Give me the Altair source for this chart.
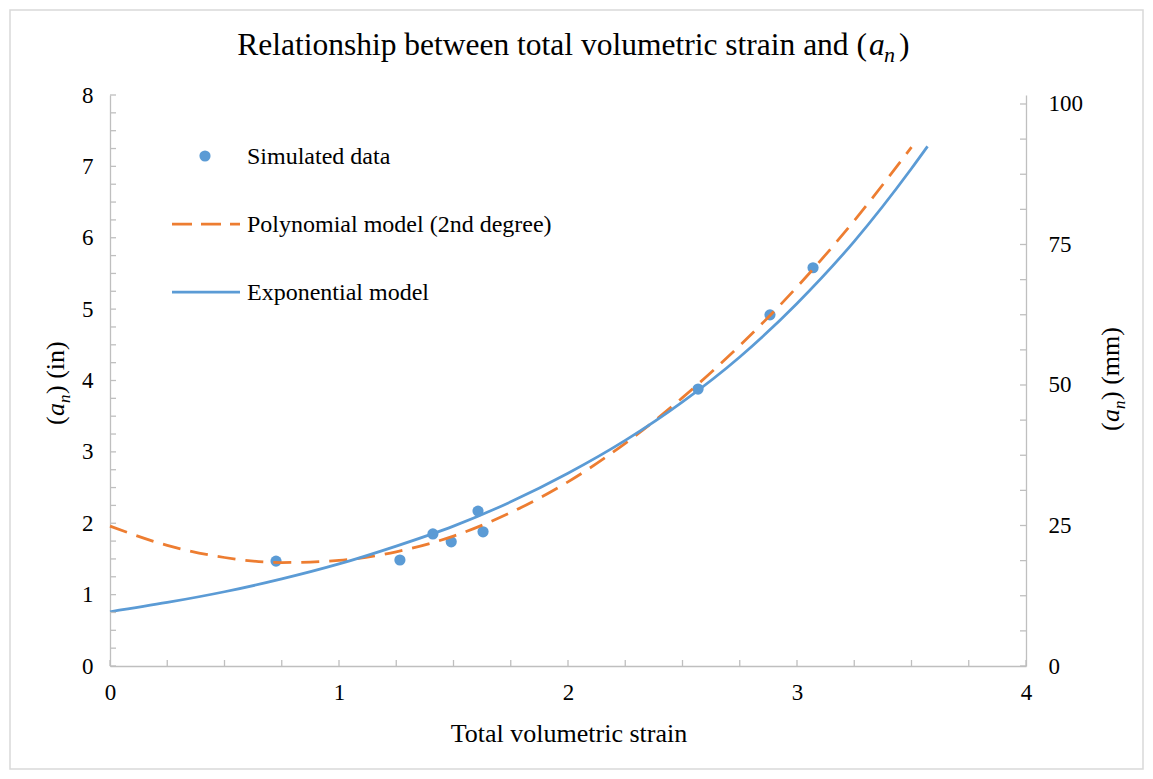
import altair as alt
import pandas as pd

# ---------------- data ----------------
sim_x = [0.725, 1.266, 1.41, 1.49, 1.607, 1.629, 2.568, 2.882, 3.07]
sim_y = [1.47, 1.485, 1.85, 1.74, 2.17, 1.88, 3.88, 4.92, 5.58]

poly_x = [0, 0.25, 0.5, 0.75, 1.0, 1.25, 1.5, 1.75, 2.0, 2.25, 2.5, 2.75, 3.0, 3.25, 3.5]
poly_y = [1.96, 1.69, 1.52, 1.45, 1.48, 1.60, 1.82, 2.15, 2.58, 3.12, 3.76, 4.49, 5.31, 6.24, 7.27]

exp_x = [0, 0.25, 0.5, 0.75, 1.0, 1.25, 1.5, 1.75, 2.0, 2.25, 2.5, 2.75, 3.0, 3.25, 3.5, 3.57]
exp_y = [0.76, 0.89, 1.04, 1.22, 1.43, 1.68, 1.96, 2.30, 2.70, 3.16, 3.70, 4.33, 5.08, 5.95, 6.97, 7.28]

x_major = [0, 1, 2, 3, 4]
y_major = [0, 1, 2, 3, 4, 5, 6, 7, 8]
mm_major = [0, 25, 50, 75, 100]
x_minor = [0, 0.25, 0.5, 0.75, 1, 1.25, 1.5, 1.75, 2, 2.25, 2.5, 2.75, 3, 3.25, 3.5, 3.75, 4]
y_minor = [0, 0.25, 0.5, 0.75, 1, 1.25, 1.5, 1.75, 2, 2.25, 2.5, 2.75, 3, 3.25, 3.5, 3.75,
           4, 4.25, 4.5, 4.75, 5, 5.25, 5.5, 5.75, 6, 6.25, 6.5, 6.75, 7, 7.25, 7.5, 7.75, 8]
mm_minor = [0, 6.25, 12.5, 18.75, 25, 31.25, 37.5, 43.75, 50, 56.25, 62.5, 68.75, 75,
            81.25, 87.5, 93.75, 100]

X_DOMAIN = [0, 4]
Y_DOMAIN = [0, 8]
MM_DOMAIN = [0, 101.6]

# ---------------- styling ----------------
W, H = 916, 571
FONT = "Liberation Serif"
BLUE = "#5B9BD5"
ORANGE = "#ED7D31"
GREY = "#BFBFBF"

sim_df = pd.DataFrame({"x": sim_x, "y": sim_y})
poly_df = pd.DataFrame({"x": poly_x, "y": poly_y})
exp_df = pd.DataFrame({"x": exp_x, "y": exp_y})
one = pd.DataFrame({"k": [0]})

xs = alt.Scale(domain=X_DOMAIN, nice=False, zero=False)
ys = alt.Scale(domain=Y_DOMAIN, nice=False, zero=False)
ms = alt.Scale(domain=MM_DOMAIN, nice=False, zero=False)

common = dict(title=None, tickSize=0, labelFontSize=23, labelFont=FONT, labelColor="black",
              domainColor=GREY, domainWidth=1.3, grid=False, format="d", labelFlush=False)
x_axis = alt.Axis(values=x_major, labelPadding=15, **common)
y_axis = alt.Axis(values=y_major, labelPadding=17, **common)
mm_axis = alt.Axis(values=mm_major, labelPadding=22, orient="right", **common)

points = alt.Chart(sim_df).mark_circle(size=125, color=BLUE, opacity=1).encode(
    x=alt.X("x:Q", scale=xs, axis=x_axis),
    y=alt.Y("y:Q", scale=ys, axis=y_axis),
)
poly = alt.Chart(poly_df).mark_line(color=ORANGE, strokeWidth=2.75,
                                    strokeDash=[18, 10], interpolate="monotone").encode(
    x=alt.X("x:Q", scale=xs), y=alt.Y("y:Q", scale=ys))
expo = alt.Chart(exp_df).mark_line(color=BLUE, strokeWidth=2.75,
                                   interpolate="monotone").encode(
    x=alt.X("x:Q", scale=xs), y=alt.Y("y:Q", scale=ys))

# inward minor/major tick marks
yticks = alt.Chart(pd.DataFrame({"v": y_minor})).mark_rule(color=GREY, strokeWidth=1.3).encode(
    y=alt.Y("v:Q", scale=ys), x=alt.value(0), x2=alt.value(6))
xticks = alt.Chart(pd.DataFrame({"v": x_minor})).mark_rule(color=GREY, strokeWidth=1.3).encode(
    x=alt.X("v:Q", scale=xs), y=alt.value(H), y2=alt.value(H - 6))

left = alt.layer(points, poly, expo, yticks, xticks)

right = alt.Chart(pd.DataFrame({"v": mm_minor})).mark_rule(color=GREY, strokeWidth=1.3).encode(
    y=alt.Y("v:Q", scale=ms, axis=mm_axis), x=alt.value(W - 6), x2=alt.value(W))


def txt(s, x, y, size, align="left", angle=0, dx=0, dy=0, italic=False):
    kw = dict(text=s, font=FONT, fontSize=size, align=align, baseline="alphabetic",
              color="black", dx=dx, dy=dy)
    if angle:
        kw["angle"] = angle
    if italic:
        kw["fontStyle"] = "italic"
    return alt.Chart(one).mark_text(**kw).encode(x=alt.value(x), y=alt.value(y))


# title (with italic a and subscript n)
TX, TY = 757, -40
title = [
    txt("Relationship between total volumetric strain and (", TX, TY, 31.5, align="right"),
    txt("a", TX + 2, TY, 31.5, italic=True),
    txt("n", TX + 17, TY, 22, italic=True, dy=7),
    txt(")", TX + 32, TY, 31.5),
]

# left axis title (rotated)
LX, LY = -46, 330
ltitle = [
    txt("(", LX, LY, 26, angle=270, dx=0),
    txt("a", LX, LY, 26, angle=270, dx=9, italic=True),
    txt("n", LX, LY, 17, angle=270, dx=22, dy=6, italic=True),
    txt(") (in)", LX, LY, 26, angle=270, dx=31),
]

# right axis title (rotated)
RX, RY = 1009, 336
rtitle = [
    txt("(", RX, RY, 26, angle=270, dx=0),
    txt("a", RX, RY, 26, angle=270, dx=9, italic=True),
    txt("n", RX, RY, 17, angle=270, dx=22, dy=6, italic=True),
    txt(") (mm)", RX, RY, 26, angle=270, dx=31),
]

xtitle = txt("Total volumetric strain", 459, 647, 26, align="center")

# legend
leg_pt = alt.Chart(one).mark_circle(size=125, color=BLUE, opacity=1).encode(
    x=alt.value(95), y=alt.value(61))
leg_poly = alt.Chart(one).mark_rule(color=ORANGE, strokeWidth=2.75, strokeDash=[20, 9]).encode(
    x=alt.value(62), x2=alt.value(130), y=alt.value(129))
leg_exp = alt.Chart(one).mark_rule(color=BLUE, strokeWidth=2.75).encode(
    x=alt.value(62), x2=alt.value(130), y=alt.value(197))
leg_txt = [
    txt("Simulated data", 137, 69, 24),
    txt("Polynomial model (2nd degree)", 137, 137, 24),
    txt("Exponential model", 137, 205, 24),
]

border = alt.Chart(one).mark_rect(fill="transparent", stroke="#D9D9D9", strokeWidth=1.5).encode(
    x=alt.value(-100), x2=alt.value(W + 117), y=alt.value(-85), y2=alt.value(H + 103))

chart = alt.layer(
    border, left, right, *title, *ltitle, *rtitle, xtitle,
    leg_pt, leg_poly, leg_exp, *leg_txt
).resolve_scale(y="independent").properties(
    width=W, height=H,
    autosize=alt.AutoSizeParams(type="none"),
    padding={"left": 102, "top": 87, "right": 119, "bottom": 105},
).configure(background="white", font=FONT).configure_view(stroke=None).configure_axis(
    labelFont=FONT, titleFont=FONT)

chart.save("out.html", embed_options={"renderer": "svg", "actions": False})
